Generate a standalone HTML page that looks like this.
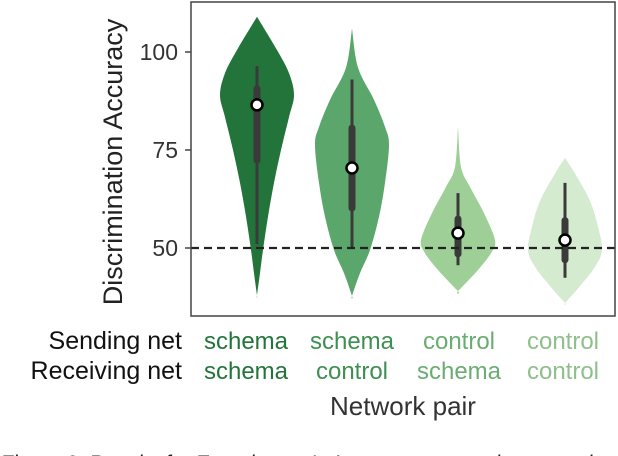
<!DOCTYPE html>
<html><head><meta charset="utf-8"><style>
body{margin:0;background:#fff;width:618px;height:456px;overflow:hidden}
svg{display:block}
text{font-family:"Liberation Sans",sans-serif}
</style></head><body>
<svg id="chart" width="618" height="456">
<g id="plot"></g>
<rect x="191" y="2" width="424" height="314" fill="none" stroke="#444" stroke-width="1.5"/>
<text x="0" y="0" transform="translate(122,162) rotate(-90)" text-anchor="middle" font-size="27" fill="#222">Discrimination Accuracy</text>
<g id="yticks"></g>
<text x="182" y="349" text-anchor="end" font-size="25" fill="#111">Sending net</text>
<text x="182" y="379" text-anchor="end" font-size="25" fill="#111">Receiving net</text>
<g id="xlabels"></g>
<text x="403" y="415" text-anchor="middle" font-size="26" fill="#333">Network pair</text>
<text x="0" y="470" font-family="Liberation Serif" font-style="italic" font-size="21" fill="#222">Figure 3:  Results for Experiment 1. Accuracy across the network</text>
</svg>
<script>
const categories=["schema-schema","schema-control","control-schema","control-control"];
const sending=["schema","schema","control","control"];
const receiving=["schema","control","schema","control"];
const colors=["#23743a","#5aa66b","#9ecf97","#d4ebcf"];
const medians=[86.5,70.4,53.8,52];
const q1=[72.4,60.2,48.5,47];
const q3=[90.6,80.6,57.4,57];
const whiskLo=[51,50,45.6,42.4];
const whiskHi=[96.4,93,64,66.6];
const densityValues=[
 [109,100.5,94.6,89,83.4,75,66.6,58,49.5,43.6,38],
 [106,96,87.8,80.9,76.3,66.6,58,49.5,43.6,37.8],
 [81,70.7,65.6,58.9,52,48.7,44.4,39],
 [73,69,62,55.4,49.5,45.2,40,36]];
const densityWidths=[
 [0,20,32,37,32,24,17,11,6,3,0],
 [0,6,22,33,37,33,27,18,8,0],
 [0,3,12,26,37,33,20,0],
 [0,10,25,33,37,30,14,0]];
const yTicks=[50,75,100];
const chanceLevel=50;
const NS="http://www.w3.org/2000/svg";
const y=v=>248-(v-50)*3.92;
const xc=[257,352,458,565];
const labelX=[246,352,459,563];
const plot=document.getElementById('plot');
function mk(tag,attrs,parent){const e=document.createElementNS(NS,tag);for(const k in attrs)e.setAttribute(k,attrs[k]);parent.appendChild(e);return e;}
categories.forEach((c,i)=>{
 const cx=xc[i];const vs=densityValues[i],ws=densityWidths[i];
 let right=vs.map((v,j)=>[cx+ws[j],y(v)]);
 let left=vs.map((v,j)=>[cx-ws[j],y(v)]).reverse();
 const pts=right.concat(left);
 let d="M"+pts[0][0]+","+pts[0][1];
 for(let k=0;k<pts.length-1;k++){
  const p0=pts[Math.max(k-1,0)],p1=pts[k],p2=pts[k+1],p3=pts[Math.min(k+2,pts.length-1)];
  d+=` C${p1[0]+(p2[0]-p0[0])/6},${p1[1]+(p2[1]-p0[1])/6} ${p2[0]-(p3[0]-p1[0])/6},${p2[1]-(p3[1]-p1[1])/6} ${p2[0]},${p2[1]}`;
 }
 const v=mk('path',{d:d+"Z",fill:colors[i]},plot);
 
 
 const w=mk('line',{x1:cx,x2:cx,y1:y(whiskHi[i]),y2:y(whiskLo[i]),stroke:"#3a3a3a","stroke-width":3},plot);
 
 
 const b=mk('line',{x1:cx,x2:cx,y1:y(q3[i]),y2:y(q1[i]),stroke:"#3a3a3a","stroke-width":7,"stroke-linecap":"round"},plot);
 
 
});
const dl=mk('line',{x1:191,x2:615,y1:y(chanceLevel),y2:y(chanceLevel),stroke:"#222","stroke-width":2.2,"stroke-dasharray":"8,5"},plot);


categories.forEach((c,i)=>{
 const m=mk('circle',{cx:xc[i],cy:y(medians[i]),r:5.5,fill:"#fff",stroke:"#000","stroke-width":2.5},plot);
 
 
});
const yt=document.getElementById('yticks');
yTicks.forEach(t=>{
 const e=mk('text',{x:178,y:y(t)+8,"text-anchor":"end","font-size":23,fill:"#333"},yt);
 e.textContent=t;
 
 
 const l=mk('line',{x1:185,x2:191,y1:y(t),y2:y(t),stroke:"#444","stroke-width":1.5},yt);
 
 
});
const xl=document.getElementById('xlabels');
const txtCol=["#23743a","#3f8f52","#6aac72","#8fbf8c"];
categories.forEach((c,i)=>{
 [[sending[i],349],[receiving[i],379]].forEach(([s,yy],r)=>{
  const e=mk('text',{x:labelX[i],y:yy,"text-anchor":"middle","font-size":24,fill:txtCol[i]},xl);
  e.textContent=s;
  
  
 });
});
</script>
</body></html>
